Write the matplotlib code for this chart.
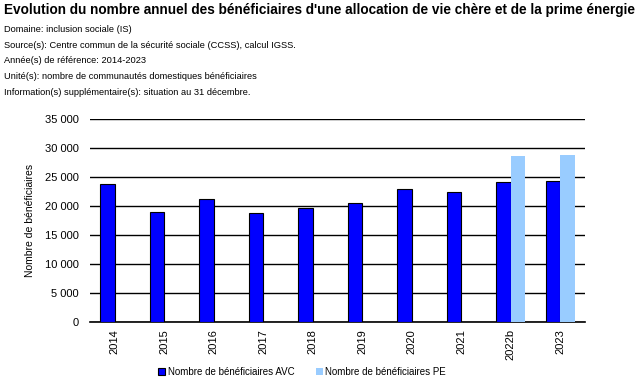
import numpy as np
import matplotlib
matplotlib.use("Agg")
import matplotlib.pyplot as plt
from matplotlib.ticker import FuncFormatter

plt.rcParams['font.family'] = ['Liberation Sans', 'DejaVu Sans']

years = ['2014', '2015', '2016', '2017', '2018', '2019', '2020', '2021', '2022b', '2023']
avc = [23800, 18900, 21200, 18750, 19600, 20500, 22900, 22400, 24100, 24300]
pe = [np.nan] * 8 + [28600, 28800]

title = "Evolution du nombre annuel des bénéficiaires d'une allocation de vie chère et de la prime énergie"
info = [
    "Domaine: inclusion sociale (IS)",
    "Source(s): Centre commun de la sécurité sociale (CCSS), calcul IGSS.",
    "Année(s) de référence: 2014-2023",
    "Unité(s): nombre de communautés domestiques bénéficiaires",
    "Information(s) supplémentaire(s): situation au 31 décembre.",
]

fig = plt.figure(figsize=(6.4, 3.87), dpi=100)
ax = fig.add_axes([0.1406, 0.168, 0.914 - 0.1406, 0.6925 - 0.168])

x = np.arange(len(years))
w = 0.295
ax.bar(x - w / 2, avc, w, color='#0000FF', edgecolor='black', linewidth=0.8,
       label='Nombre de bénéficiaires AVC', zorder=3)
ax.bar(x + w / 2, pe, w, color='#99CCFF', edgecolor='none',
       label='Nombre de bénéficiaires PE', zorder=3)

ax.set_xlim(-0.5, len(years) - 0.5)
ax.set_ylim(0, 35000)
ax.set_yticks(np.arange(0, 35001, 5000))
ax.yaxis.set_major_formatter(FuncFormatter(lambda v, p: f"{int(v):,}".replace(',', ' ')))
ax.grid(axis='y', color='black', linewidth=1, zorder=0)
ax.set_xticks(x)
ax.set_xticklabels(years, rotation=90, fontsize=8)
ax.tick_params(axis='both', length=0, labelsize=8)
ax.tick_params(axis='x', pad=5)
ax.tick_params(axis='y', pad=8)
for s in ['top', 'right', 'left']:
    ax.spines[s].set_visible(False)
ax.spines['bottom'].set_linewidth(1.2)
ax.set_ylabel('Nombre de bénéficiaires', fontsize=7.5, labelpad=7)

fig.text(0.006, 0.975, title, fontsize=9.8, fontweight='bold', va='center')
for i, line in enumerate(info):
    fig.text(0.006, 0.925 - i * 0.0413, line, fontsize=6.7, va='center')

fig.legend(loc='center', bbox_to_anchor=(0.472, 0.04), ncol=2, frameon=False,
           fontsize=7, handlelength=0.7, handleheight=0.7, columnspacing=2.2,
           handletextpad=0.3)

fig.savefig('out.png', dpi=100)
